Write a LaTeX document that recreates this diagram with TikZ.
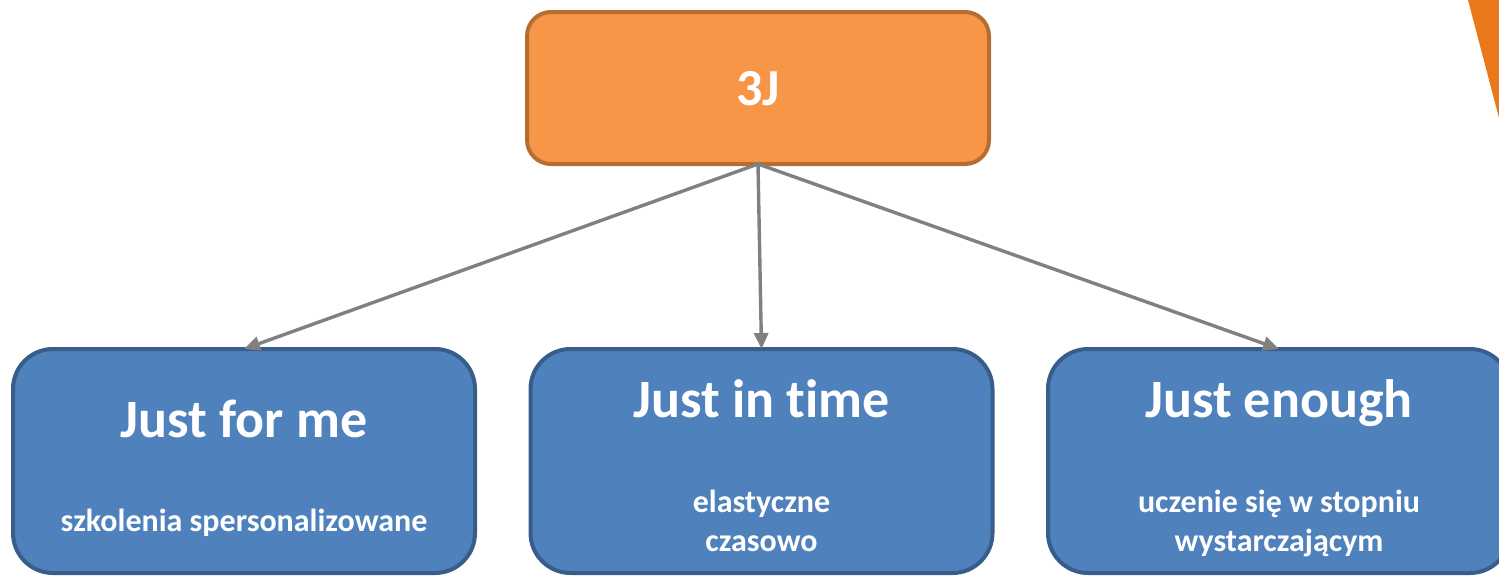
\documentclass[tikz,border=0pt]{standalone}
\usepackage{fontspec}
\setmainfont{Carlito}[Ligatures=NoCommon]
\usetikzlibrary{arrows.meta}
\definecolor{bluefill}{HTML}{4F81BD}
\definecolor{blueline}{HTML}{385D8A}
\definecolor{orfill}{HTML}{F79646}
\definecolor{orline}{HTML}{B66D31}
\definecolor{arrowgray}{HTML}{808080}
\definecolor{triorange}{HTML}{E8781A}
\tikzset{
  bluebox/.style={draw=blueline, fill=bluefill, line width=4pt, rounded corners=40pt,
    minimum width=462pt, minimum height=224pt, inner sep=0pt, outer sep=0pt},
  topbox/.style={draw=orline, fill=orfill, line width=4pt, rounded corners=24pt,
    minimum width=462pt, minimum height=152pt, inner sep=0pt, outer sep=0pt},
  titletext/.style={text=white, font=\bfseries\fontsize{54}{60}\selectfont, anchor=base, inner sep=0pt},
  toptext/.style={text=white, font=\bfseries\fontsize{52}{58}\selectfont, anchor=base, inner sep=0pt},
  subtext/.style={text=white, font=\bfseries\fontsize{32}{39}\selectfont, anchor=base, inner sep=0pt},
  conn/.style={draw=arrowgray, line width=3.4pt, -{Triangle[length=16pt,width=14pt]}}
}
\begin{document}
\begin{tikzpicture}[x=1pt,y=-1pt]
\useasboundingbox (0,0) rectangle (1499,576);
\clip (0,0) rectangle (1499,576);
\fill[triorange] (1468,0) -- (1530,0) -- (1530,236) -- cycle;
\node[topbox] (top) at (758,88) {};
\node[bluebox] (left) at (244,461) {};
\node[bluebox] (mid) at (761.5,461) {};
\node[bluebox] (right) at (1279,461) {};
\node[toptext] (toptitle) at (758,105) {3J};
\node[titletext] (lefttitle) at (244,437) {Just for me};
\node[titletext] (midtitle) at (761.5,417) {Just in time};
\node[titletext] (righttitle) at (1279,417) {Just enough};
\node[subtext] (leftsub) at (244,531) {szkolenia spersonalizowane};
\node[subtext] (midsub1) at (761.5,512) {elastyczne};
\node[subtext] (midsub2) at (761.5,551) {czasowo};
\node[subtext] (rightsub1) at (1279,512) {uczenie się w stopniu};
\node[subtext] (rightsub2) at (1279,551) {wystarczającym};
\draw[conn] (top.south) -- (left.north);
\draw[conn] (top.south) -- (mid.north);
\draw[conn] (top.south) -- (right.north);
\end{tikzpicture}
\end{document}
